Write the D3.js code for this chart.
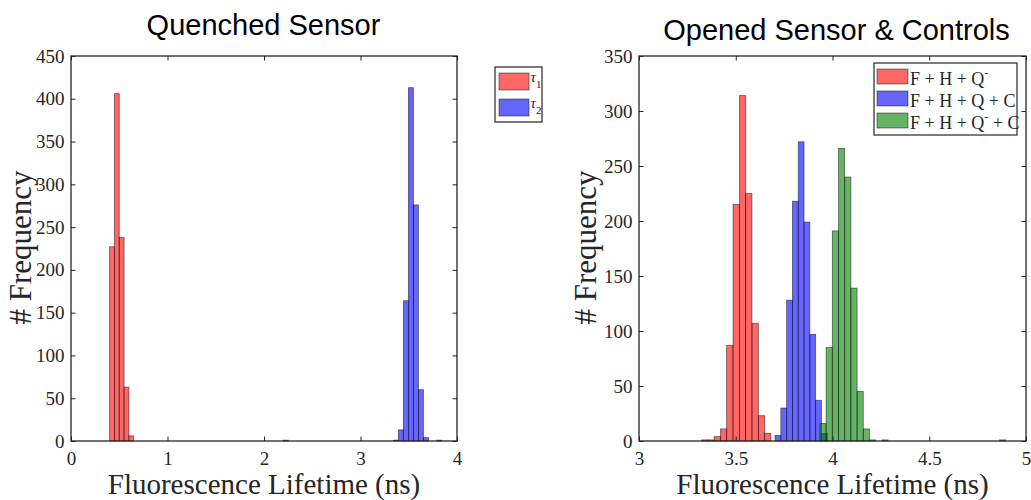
<!DOCTYPE html>
<html>
<head>
<meta charset="utf-8">
<script src="https://cdn.jsdelivr.net/npm/d3@7"></script>
<style>
  body { margin: 0; background: #fff; }
  svg { display: block; }
</style>
</head>
<body>
<script>
// Quenched sensor: two lifetime components (bin left edge in ns, counts)
const tau1Width = 0.05;
const tau1Edges = [0.40, 0.45, 0.50, 0.55, 0.60];
const tau1Counts = [227, 406, 238, 63, 6];

const tau2Width = 0.052;
const tau2Edges = [2.200, 3.340, 3.392, 3.444, 3.496, 3.548, 3.600, 3.652, 3.790];
const tau2Counts = [1, 1, 13, 164, 413, 276, 60, 4, 1];

// Opened sensor and controls
const fhqmWidth = 0.0327;
const fhqmEdges = [3.323, 3.355, 3.388, 3.421, 3.453, 3.486, 3.519, 3.551, 3.584, 3.617, 3.649];
const fhqmCounts = [1, 1, 4, 11, 87, 215, 314, 225, 107, 23, 7];

const fhqcWidth = 0.030;
const fhqcEdges = [3.703, 3.733, 3.763, 3.793, 3.823, 3.853, 3.883, 3.913, 3.943];
const fhqcCounts = [5, 30, 128, 218, 272, 199, 97, 37, 7];

const fhqmcWidth = 0.032;
const fhqmcEdges = [3.935, 3.967, 3.999, 4.031, 4.063, 4.095, 4.127, 4.159, 4.191, 4.255, 4.863];
const fhqmcCounts = [16, 85, 191, 266, 240, 139, 45, 11, 1, 1, 1];

// Axis ticks
const quenchedXTicks = [0, 1, 2, 3, 4];
const quenchedYTicks = [0, 50, 100, 150, 200, 250, 300, 350, 400, 450];
const openedXTicks = [3, 3.5, 4, 4.5, 5];
const openedYTicks = [0, 50, 100, 150, 200, 250, 300, 350];

const RED = "#ff0000", BLUE = "#0000ff", GREEN = "#008000";
const INK = "#262626";
const SERIF = "'Liberation Serif', 'Times New Roman', serif";
const SANS = "'Liberation Sans', Arial, sans-serif";

const W = 1031, H = 500;
const svg = d3.select("body").append("svg")
  .attr("width", W).attr("height", H)
  .attr("viewBox", `0 0 ${W} ${H}`);

function series(edges, counts, width, color) {
  return { color, bins: edges.map((e, i) => ({ x0: e, x1: e + width, n: counts[i] })) };
}

const panels = [
  {
    title: "Quenched Sensor", titleX: 263.5, titleY: 35,
    left: 71, right: 457, top: 56, bottom: 441,
    xDomain: [0, 4], yDomain: [0, 450],
    xTicks: quenchedXTicks, yTicks: quenchedYTicks,
    ylabelX: 31,
    series: [
      series(tau1Edges, tau1Counts, tau1Width, RED),
      series(tau2Edges, tau2Counts, tau2Width, BLUE)
    ],
    legend: {
      x: 495, y: 67, w: 47, h: 55,
      swatchX: 499, swatchW: 30, swatchH: 17,
      rows: [
        { color: RED, y: 73, sub: "1" },
        { color: BLUE, y: 99, sub: "2" }
      ],
      kind: "tau"
    }
  },
  {
    title: "Opened Sensor & Controls", titleX: 836.5, titleY: 40,
    left: 639, right: 1026, top: 56, bottom: 441,
    xDomain: [3, 5], yDomain: [0, 350],
    xTicks: openedXTicks, yTicks: openedYTicks,
    ylabelX: 596,
    series: [
      series(fhqmEdges, fhqmCounts, fhqmWidth, RED),
      series(fhqcEdges, fhqcCounts, fhqcWidth, BLUE),
      series(fhqmcEdges, fhqmcCounts, fhqmcWidth, GREEN)
    ],
    legend: {
      x: 874, y: 63, w: 143, h: 72,
      swatchX: 877, swatchW: 31, swatchH: 15,
      rows: [
        { color: RED, y: 69, parts: [["F + H + Q", 0], ["-", 1]] },
        { color: BLUE, y: 91, parts: [["F + H + Q + C", 0]] },
        { color: GREEN, y: 113, parts: [["F + H + Q", 0], ["-", 1], [" + C", 0]] }
      ],
      kind: "text"
    }
  }
];

panels.forEach(p => {
  const x = d3.scaleLinear().domain(p.xDomain).range([p.left, p.right]);
  const y = d3.scaleLinear().domain(p.yDomain).range([p.bottom, p.top]);
  const g = svg.append("g");

  // histogram bars
  p.series.forEach(s => {
    g.append("g").selectAll("rect").data(s.bins).join("rect")
      .attr("x", d => x(d.x0))
      .attr("width", d => x(d.x1) - x(d.x0))
      .attr("y", d => y(d.n))
      .attr("height", d => y(0) - y(d.n))
      .attr("fill", s.color).attr("fill-opacity", 0.6)
      .attr("stroke", "#000").attr("stroke-opacity", 0.55)
      .attr("stroke-width", 0.8);
  });

  const tick = 4.5;
  const styleAxis = sel => {
    sel.attr("font-family", SERIF).attr("font-size", 19);
    sel.select(".domain").remove();
    sel.selectAll(".tick line").attr("stroke", INK).attr("stroke-width", 1);
    sel.selectAll(".tick text").attr("fill", INK)
      .style("font-family", SERIF).style("font-size", "19px");
  };

  g.append("g").attr("transform", `translate(0,${p.bottom})`)
    .call(d3.axisBottom(x).tickValues(p.xTicks).tickSizeInner(-tick).tickSizeOuter(0).tickPadding(11).tickFormat(d3.format("")))
    .call(styleAxis);
  g.append("g").attr("transform", `translate(0,${p.top})`)
    .call(d3.axisTop(x).tickValues(p.xTicks).tickSizeInner(-tick).tickSizeOuter(0).tickFormat(""))
    .call(styleAxis);
  g.append("g").attr("transform", `translate(${p.left},0)`)
    .call(d3.axisLeft(y).tickValues(p.yTicks).tickSizeInner(-tick).tickSizeOuter(0).tickPadding(6.5).tickFormat(d3.format("")))
    .call(styleAxis);
  g.append("g").attr("transform", `translate(${p.right},0)`)
    .call(d3.axisRight(y).tickValues(p.yTicks).tickSizeInner(-tick).tickSizeOuter(0).tickFormat(""))
    .call(styleAxis);

  // axes box
  g.append("rect")
    .attr("x", p.left).attr("y", p.top)
    .attr("width", p.right - p.left).attr("height", p.bottom - p.top)
    .attr("fill", "none").attr("stroke", INK).attr("stroke-width", 1.3);

  // titles and labels
  svg.append("text").attr("x", p.titleX).attr("y", p.titleY)
    .attr("text-anchor", "middle").attr("fill", "#000")
    .style("font-family", SANS).style("font-size", "29px")
    .text(p.title);

  svg.append("text").attr("x", (p.left + p.right) / 2).attr("y", 494)
    .attr("text-anchor", "middle").attr("fill", INK)
    .style("font-family", SERIF).style("font-size", "29px")
    .text("Fluorescence Lifetime (ns)");

  svg.append("text")
    .attr("transform", `translate(${p.ylabelX},${(p.top + p.bottom) / 2 - 1}) rotate(-90)`)
    .attr("text-anchor", "middle").attr("fill", INK)
    .style("font-family", SERIF).style("font-size", "31px")
    .text("# Frequency");

  // legend
  const L = p.legend;
  const lg = svg.append("g");
  lg.append("rect").attr("x", L.x).attr("y", L.y).attr("width", L.w).attr("height", L.h)
    .attr("fill", "#fff").attr("stroke", INK).attr("stroke-width", 1.2);
  L.rows.forEach(r => {
    lg.append("rect").attr("x", L.swatchX).attr("y", r.y)
      .attr("width", L.swatchW).attr("height", L.swatchH)
      .attr("fill", r.color).attr("fill-opacity", 0.6)
      .attr("stroke", "#000").attr("stroke-opacity", 0.55).attr("stroke-width", 0.8);
    if (L.kind === "tau") {
      const t = lg.append("text").attr("x", L.swatchX + L.swatchW + 1.5).attr("y", r.y + 8.5)
        .attr("fill", INK).style("font-family", SERIF).style("font-size", "15px");
      t.append("tspan").style("font-style", "italic").text("\u03c4");
      t.append("tspan").attr("dy", 6).style("font-size", "11px").text(r.sub);
    } else {
      const t = lg.append("text").attr("x", L.swatchX + L.swatchW + 2).attr("y", r.y + 15.5)
        .attr("fill", INK).style("font-family", SERIF).style("font-size", "18px");
      let shift = 0;
      r.parts.forEach(([s, sup]) => {
        const target = sup ? -8 : 0;
        t.append("tspan").attr("dy", target - shift)
          .style("font-size", sup ? "12px" : "18px").text(s);
        shift = target;
      });
    }
  });
});
</script>
</body>
</html>
